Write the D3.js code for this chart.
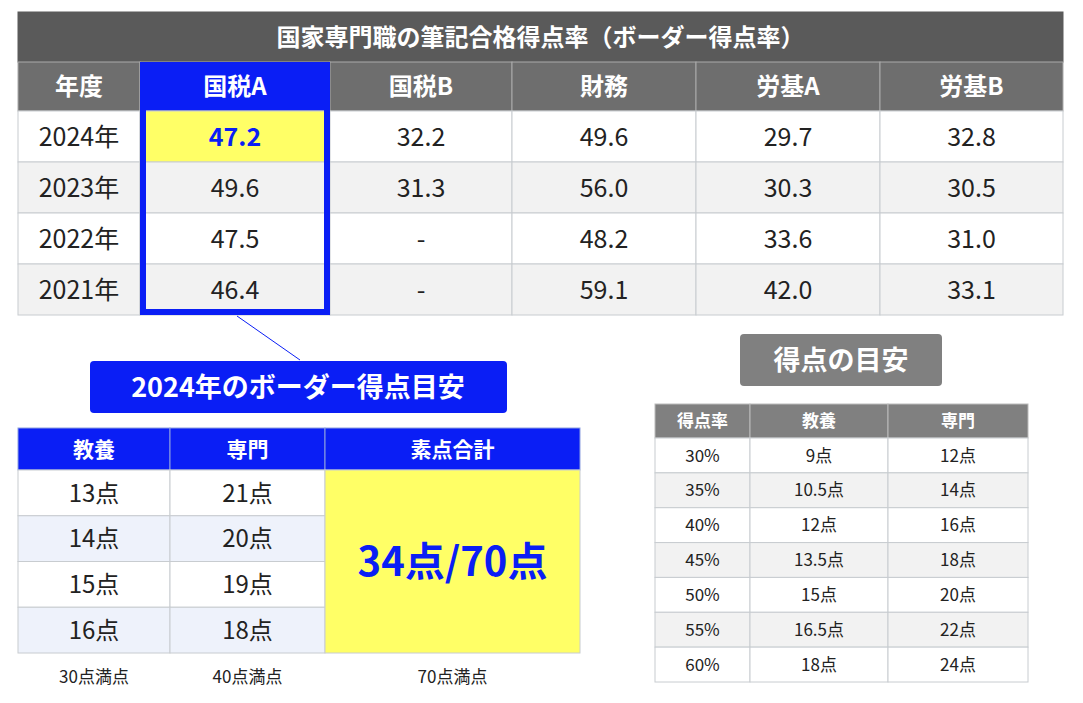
<!DOCTYPE html>
<html><head><meta charset="utf-8">
<script src="https://cdn.jsdelivr.net/npm/d3@7"></script>
<style>body{margin:0;background:#fff}text{font-family:"Noto Sans CJK JP","Noto Sans",sans-serif}</style>
</head><body><svg id="c" width="1083" height="703"></svg>
<script>
const title = '国家専門職の筆記合格得点率（ボーダー得点率）'
const columns = ['年度', '国税A', '国税B', '財務', '労基A', '労基B']
const years = ['2024年', '2023年', '2022年', '2021年']
const kokuzeiA = ['47.2', '49.6', '47.5', '46.4']
const kokuzeiB = ['32.2', '31.3', '-', '-']
const zaimu = ['49.6', '56.0', '48.2', '59.1']
const roukiA = ['29.7', '30.3', '33.6', '42.0']
const roukiB = ['32.8', '30.5', '31.0', '33.1']

const borderHead = ['教養', '専門', '素点合計']
const kyouyou = ['13点', '14点', '15点', '16点']
const senmon = ['21点', '20点', '19点', '18点']
const total = '34点/70点'
const fullMarks = ['30点満点', '40点満点', '70点満点']

const guideHead = ['得点率', '教養', '専門']
const rates = ['30%', '35%', '40%', '45%', '50%', '55%', '60%']
const guideKyouyou = ['9点', '10.5点', '12点', '13.5点', '15点', '16.5点', '18点']
const guideSenmon = ['12点', '14点', '16点', '18点', '20点', '22点', '24点']

const svg = d3.select('#c')
const blue = '#0a1ef5'

function cell(g, x, y, w, h, fill, txt, opt = {}) {
  g.append('rect').attr('x', x).attr('y', y).attr('width', w).attr('height', h)
    .attr('fill', fill).attr('stroke', opt.stroke || '#c8ccd0').attr('stroke-width', 1)
  g.append('text').attr('x', x + w / 2).attr('y', y + h / 2).attr('dy', '0.36em')
    .attr('text-anchor', 'middle').attr('font-size', opt.size || 24)
    .attr('font-weight', opt.bold ? 700 : 400).attr('fill', opt.color || '#222').text(txt)
}

// top table
const colX = [18, 140, 330, 512, 696, 880, 1063]
const rowY = d3.scaleLinear().domain([0, 4]).range([111, 315])
const topTable = svg.append('g')
cell(topTable, 18, 12, 1045, 50, '#5a5a5a', title, { color: '#fff', bold: true, size: 24, stroke: '#5a5a5a' })
columns.forEach((c, i) => {
  cell(topTable, colX[i], 62, colX[i + 1] - colX[i], 49, i === 1 ? blue : '#6e6e6e', c,
    { color: '#fff', bold: true, size: 24, stroke: '#aaa' })
})
const topData = [years, kokuzeiA, kokuzeiB, zaimu, roukiA, roukiB]
years.forEach((y, r) => {
  topData.forEach((col, i) => {
    const hi = r === 0 && i === 1
    cell(topTable, colX[i], rowY(r), colX[i + 1] - colX[i], rowY(r + 1) - rowY(r),
      hi ? '#ffff66' : (r % 2 ? '#f2f2f2' : '#fff'), col[r],
      { color: hi ? blue : '#222', bold: hi, size: 25 })
  })
})
topTable.append('rect').attr('x', 143).attr('y', 65).attr('width', 184).attr('height', 247)
  .attr('fill', 'none').attr('stroke', blue).attr('stroke-width', 6)
svg.append('line').attr('x1', 237).attr('y1', 316).attr('x2', 300).attr('y2', 360)
  .attr('stroke', blue).attr('stroke-width', 1)

// border label
svg.append('rect').attr('x', 90).attr('y', 361).attr('width', 417).attr('height', 52).attr('rx', 4).attr('fill', blue)
svg.append('text').attr('x', 298).attr('y', 387).attr('dy', '0.36em').attr('text-anchor', 'middle')
  .attr('font-size', 27).attr('font-weight', 700).attr('fill', '#fff').text('2024年のボーダー得点目安')

// bottom-left table
const bx = [18, 170, 325, 580]
const by = d3.scaleLinear().domain([0, 4]).range([470, 653])
const bt = svg.append('g')
borderHead.forEach((h, i) => cell(bt, bx[i], 428, bx[i + 1] - bx[i], 42, blue, h,
  { color: '#fff', bold: true, size: 21, stroke: '#8da0e0' }))
kyouyou.forEach((k, r) => {
  const f = r % 2 ? '#eef2fb' : '#fff'
  cell(bt, bx[0], by(r), bx[1] - bx[0], by(r + 1) - by(r), f, k, { size: 24 })
  cell(bt, bx[1], by(r), bx[2] - bx[1], by(r + 1) - by(r), f, senmon[r], { size: 24 })
})
cell(bt, bx[2], by(0), bx[3] - bx[2], by(4) - by(0), '#ffff66', total, { color: blue, bold: true, size: 40 })
fullMarks.forEach((t, i) => {
  svg.append('text').attr('x', (bx[i] + bx[i + 1]) / 2).attr('y', 677).attr('dy', '0.36em')
    .attr('text-anchor', 'middle').attr('font-size', 17).attr('fill', '#222').text(t)
})

// guide
svg.append('rect').attr('x', 740).attr('y', 334).attr('width', 202).attr('height', 52).attr('rx', 4).attr('fill', '#808080')
svg.append('text').attr('x', 841).attr('y', 360).attr('dy', '0.36em').attr('text-anchor', 'middle')
  .attr('font-size', 27).attr('font-weight', 700).attr('fill', '#fff').text('得点の目安')
const gx = [655, 750, 888, 1028]
const gy = d3.scaleLinear().domain([0, 7]).range([438, 682])
const gt = svg.append('g')
guideHead.forEach((h, i) => cell(gt, gx[i], 404, gx[i + 1] - gx[i], 34, '#808080', h,
  { color: '#fff', bold: true, size: 17, stroke: '#bbb' }))
const guideData = [rates, guideKyouyou, guideSenmon]
rates.forEach((_, r) => {
  guideData.forEach((col, i) => cell(gt, gx[i], gy(r), gx[i + 1] - gx[i], gy(r + 1) - gy(r),
    r % 2 ? '#f2f2f2' : '#fff', col[r], { size: 17 }))
})
</script></body></html>
